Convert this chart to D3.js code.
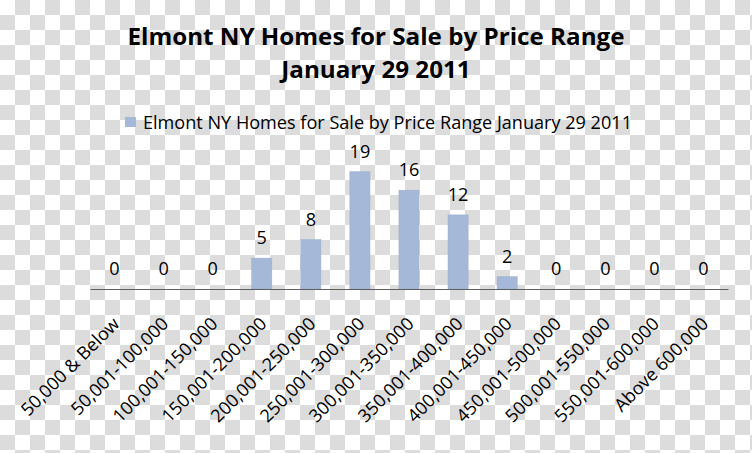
<!DOCTYPE html>
<html>
<head>
<meta charset="utf-8">
<script src="https://cdn.jsdelivr.net/npm/d3@7"></script>
<style>
  body { margin: 0; }
  svg { display: block; }
  text { font-family: "Open Sans", "Noto Sans", sans-serif; fill: #000; }
</style>
</head>
<body>
<svg id="chart"></svg>
<script>
const categories = ['50,000 & Below', '50,001-100,000', '100,001-150,000', '150,001-200,000',
                    '200,001-250,000', '250,001-300,000', '300,001-350,000', '350,001-400,000',
                    '400,001-450,000', '450,001-500,000', '500,001-550,000', '550,001-600,000',
                    'Above 600,000'],
      values = [0, 0, 0, 5, 8, 19, 16, 12, 2, 0, 0, 0, 0],
      titleLines = ['Elmont NY Homes for Sale by Price Range', 'January 29 2011'],
      seriesName = 'Elmont NY Homes for Sale by Price Range January 29 2011';

const width = 752,
      height = 453,
      left = 90,
      right = 728,
      baseline = 289,
      labelSize = 18,
      barColor = '#a6b8d8';

const svg = d3.select('#chart')
    .attr('width', width)
    .attr('height', height);

// transparency checkerboard behind the chart
const pattern = svg.append('defs')
  .append('pattern')
    .attr('id', 'checker')
    .attr('width', 30)
    .attr('height', 30)
    .attr('patternUnits', 'userSpaceOnUse');
pattern.append('rect').attr('width', 30).attr('height', 30).attr('fill', '#fff');
pattern.append('rect').attr('x', 15).attr('width', 15).attr('height', 15).attr('fill', '#dcdcdc');
pattern.append('rect').attr('y', 15).attr('width', 15).attr('height', 15).attr('fill', '#dcdcdc');

svg.append('rect')
    .attr('width', width)
    .attr('height', height)
    .attr('fill', 'url(#checker)');

const xScale = d3.scaleBand()
                 .domain(categories)
                 .range([left, right])
                 .paddingInner(0.59)
                 .paddingOuter(0.295),
      yScale = d3.scaleLinear()
                 .domain([0, 20])
                 .range([baseline, 165.5]);

// Open Sans is wider than the original Calibri: squeeze it to the same widths
function squeeze(sel, factor) {
  sel.each(function () {
    const w = this.getComputedTextLength();
    d3.select(this)
        .attr('textLength', w * factor)
        .attr('lengthAdjust', 'spacingAndGlyphs');
  });
}

const title = svg.append('g')
    .style('font-weight', 'bold')
    .style('font-size', '24px')
    .style('text-anchor', 'middle');
const t1 = title.append('text')
    .text(titleLines[0])
    .attr('x', 376)
    .attr('y', 45);
const titleFactor = 497 / t1.node().getComputedTextLength();
squeeze(t1, titleFactor);
squeeze(title.append('text')
    .text(titleLines[1])
    .attr('x', 376)
    .attr('y', 78), titleFactor);

// legend
svg.append('rect')
    .attr('x', 125)
    .attr('y', 117)
    .attr('width', 11)
    .attr('height', 10)
    .attr('fill', barColor);
const legendText = svg.append('text')
    .text(seriesName)
    .attr('x', 143)
    .attr('y', 129)
    .style('font-size', labelSize + 'px');
const factor = 489 / legendText.node().getComputedTextLength();
squeeze(legendText, factor);

// bars
svg.append('g')
  .selectAll('rect')
  .data(values)
  .enter()
  .append('rect')
    .attr('x', (d, i) => xScale(categories[i]))
    .attr('y', (d) => yScale(d))
    .attr('width', xScale.bandwidth())
    .attr('height', (d) => baseline - yScale(d))
    .attr('fill', barColor)
    .attr('stroke', '#9aadd0')
    .attr('stroke-width', 0.5);

// value labels
svg.append('g')
  .selectAll('text')
  .data(values)
  .enter()
  .append('text')
    .text((d) => d)
    .attr('x', (d, i) => xScale(categories[i]) + xScale.bandwidth() / 2)
    .attr('y', (d) => yScale(d) - 14)
    .style('font-size', labelSize + 'px')
    .style('text-anchor', 'middle')
    .call(squeeze, factor);

// category axis
const xAxis = d3.axisBottom(xScale)
                .tickSize(0)
                .tickSizeOuter(0);

const axisG = svg.append('g')
    .attr('transform', `translate(0, ${baseline})`)
    .call(xAxis);

axisG.select('.domain')
    .attr('stroke', '#5f5f5f')
    .attr('stroke-width', 1);

axisG.selectAll('.tick text')
    .attr('y', 0)
    .attr('dy', 0)
    .attr('transform', 'translate(6, 36) rotate(-45)')
    .style('text-anchor', 'end')
    .style('font-family', '"Open Sans", "Noto Sans", sans-serif')
    .style('font-size', labelSize + 'px')
    .attr('fill', '#000')
    .call(squeeze, factor);
</script>
</body>
</html>
